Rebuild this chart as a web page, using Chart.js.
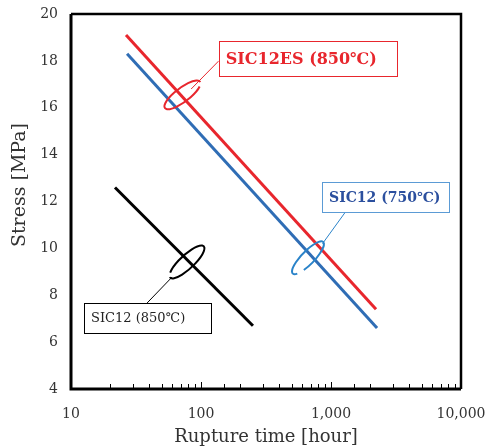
<!DOCTYPE html>
<html>
<head>
<meta charset="utf-8">
<script src="https://cdn.jsdelivr.net/npm/chart.js@4/dist/chart.umd.min.js"></script>
<style>
  html, body { margin: 0; padding: 0; background: #fff; }
  #wrap { width: 486px; height: 448px; }
</style>
</head>
<body>
<div id="wrap"><canvas id="chart"></canvas></div>
<script>
// rupture time [hour] and stress [MPa]
const redTime = [26.5, 2220];
const redStress = [19.1, 7.4];
const blueTime = [27, 2260];
const blueStress = [18.3, 6.6];
const blackTime = [21.8, 251];
const blackStress = [12.6, 6.7];

const xTickLabels = [10, 100, 1000, 10000];
const yTicks = [4, 6, 8, 10, 12, 14, 16, 18, 20];

const SERIF = '"DejaVu Serif", "Liberation Serif", serif';
const RED = '#e8262d';
const BLUE = '#2f6db5';

const toPoints = (xs, ys) => xs.map((x, i) => ({ x: x, y: ys[i] }));

// callouts: label box, leader line and oval, anchored in data units
const callouts = [
    {
        text: 'SIC12ES (850℃)', color: RED, textColor: RED, border: RED, bold: true, size: 16,
        box: { x: 137, y: 18.85, w: 178, h: 35 },
        lead: [{ x: 137, y: 18.0 }, { x: 84, y: 16.8 }],
        oval: { x: 72, y: 16.55, rx: 22, ry: 7, rot: -37, gap: 0.55 }
    },
    {
        text: 'SIC12 (750℃)', color: '#2a83c9', textColor: '#2b4f9e', border: '#5b9bd5', bold: true, size: 14,
        box: { x: 853, y: 12.83, w: 127, h: 30 },
        lead: [{ x: 1290, y: 11.55 }, { x: 860, y: 10.2 }],
        oval: { x: 665, y: 9.6, rx: 22, ry: 6.5, rot: -46, gap: 2.6 }
    },
    {
        text: 'SIC12 (850℃)', color: '#000', textColor: '#222', border: '#000', bold: false, size: 13,
        box: { x: 12.6, y: 7.67, w: 127, h: 30 },
        lead: [{ x: 38.5, y: 7.67 }, { x: 60, y: 8.78 }],
        oval: { x: 78, y: 9.42, rx: 23, ry: 7, rot: -43, gap: 3.7 }
    }
];

const noPad = s => { s.paddingLeft = 0; s.paddingRight = 0; s.paddingTop = 0; s.paddingBottom = 0; };

const framePlugin = {
    id: 'frame',
    afterDraw(chart) {
        const ctx = chart.ctx;
        const a = chart.chartArea;
        const xs = chart.scales.x;
        const ys = chart.scales.y;
        ctx.save();
        // inward minor ticks on the time axis
        ctx.strokeStyle = '#000';
        ctx.lineWidth = 1;
        xs.ticks.forEach(t => {
            const px = Math.round(xs.getPixelForValue(t.value)) + 0.5;
            const major = xTickLabels.includes(t.value);
            ctx.beginPath();
            ctx.moveTo(px, a.bottom);
            ctx.lineTo(px, a.bottom - (major ? 7 : 5));
            ctx.stroke();
        });
        // frame
        ctx.lineWidth = 3;
        ctx.beginPath();
        ctx.moveTo(a.left, a.top);
        ctx.lineTo(a.left, a.bottom);
        ctx.lineTo(a.right, a.bottom);
        ctx.stroke();
        ctx.lineWidth = 2.5;
        ctx.beginPath();
        ctx.moveTo(a.left, a.top);
        ctx.lineTo(a.right, a.top);
        ctx.lineTo(a.right, a.bottom);
        ctx.stroke();

        // y axis title, sits a bit above the middle in the original
        ctx.save();
        ctx.translate(20, 185);
        ctx.rotate(-Math.PI / 2);
        ctx.fillStyle = '#333';
        ctx.font = '19px ' + SERIF;
        ctx.textAlign = 'center';
        ctx.textBaseline = 'middle';
        ctx.fillText('Stress [MPa]', 0, 0);
        ctx.restore();

        // callouts
        callouts.forEach(c => {
            const bx = xs.getPixelForValue(c.box.x);
            const by = ys.getPixelForValue(c.box.y);
            ctx.lineWidth = 1;
            ctx.strokeStyle = c.color;
            ctx.beginPath();
            ctx.moveTo(xs.getPixelForValue(c.lead[0].x), ys.getPixelForValue(c.lead[0].y));
            ctx.lineTo(xs.getPixelForValue(c.lead[1].x), ys.getPixelForValue(c.lead[1].y));
            ctx.stroke();

            ctx.lineWidth = 2;
            ctx.beginPath();
            ctx.ellipse(xs.getPixelForValue(c.oval.x), ys.getPixelForValue(c.oval.y),
                c.oval.rx, c.oval.ry, c.oval.rot * Math.PI / 180,
                c.oval.gap, c.oval.gap + Math.PI * 1.85);
            ctx.stroke();

            ctx.fillStyle = '#fff';
            ctx.fillRect(bx, by, c.box.w, c.box.h);
            ctx.lineWidth = 1;
            ctx.strokeStyle = c.border;
            ctx.strokeRect(Math.round(bx) + 0.5, Math.round(by) + 0.5, c.box.w, c.box.h);
            ctx.fillStyle = c.textColor;
            ctx.font = (c.bold ? 'bold ' : '') + c.size + 'px ' + SERIF;
            ctx.textBaseline = 'middle';
            ctx.textAlign = 'left';
            ctx.fillText(c.text, bx + 7, by + c.box.h / 2 + 1);
        });
        ctx.restore();
    }
};

new Chart(document.getElementById('chart'), {
    type: 'line',
    data: {
        datasets: [
            { data: toPoints(redTime, redStress), borderColor: RED },
            { data: toPoints(blueTime, blueStress), borderColor: BLUE },
            { data: toPoints(blackTime, blackStress), borderColor: '#000' }
        ]
    },
    options: {
        responsive: true,
        maintainAspectRatio: false,
        animation: false,
        events: [],
        layout: { padding: { top: 14, right: 25, left: 0, bottom: 0 } },
        elements: {
            point: { radius: 0 },
            line: { borderWidth: 3, tension: 0, borderCapStyle: 'butt' }
        },
        plugins: {
            legend: { display: false },
            tooltip: { enabled: false }
        },
        scales: {
            x: {
                type: 'logarithmic',
                min: 10,
                max: 10000,
                grid: { display: false, drawTicks: false },
                border: { display: false },
                afterFit: s => { s.height = 59; noPad(s); },
                ticks: {
                    autoSkip: false,
                    maxRotation: 0,
                    padding: 17,
                    color: '#333',
                    font: { family: SERIF, size: 14 },
                    callback: v => xTickLabels.includes(v) ? v.toLocaleString('en-US') : ''
                },
                title: {
                    display: true,
                    text: 'Rupture time [hour]',
                    color: '#333',
                    font: { family: SERIF, size: 18 },
                    padding: { top: 0, bottom: 0 }
                }
            },
            y: {
                min: 4,
                max: 20,
                grid: { display: false, drawTicks: false },
                border: { display: false },
                afterFit: s => { s.width = 71; noPad(s); },
                afterBuildTicks: s => { s.ticks = yTicks.map(v => ({ value: v })); },
                ticks: {
                    padding: 13,
                    color: '#333',
                    font: { family: SERIF, size: 14 }
                }
            }
        }
    },
    plugins: [framePlugin]
});
</script>
</body>
</html>
